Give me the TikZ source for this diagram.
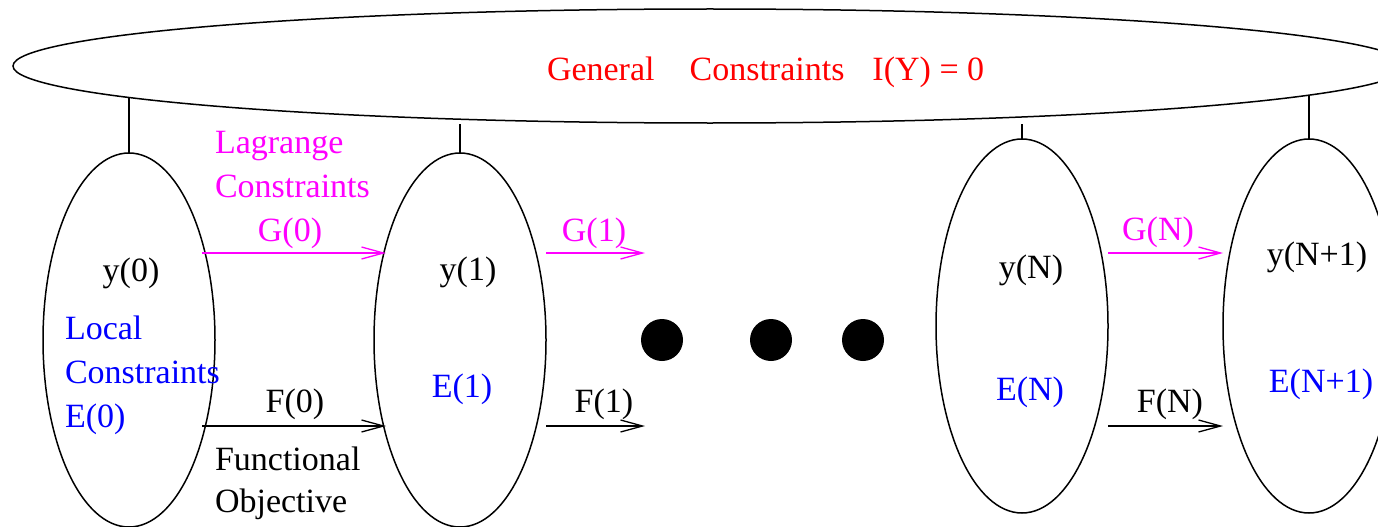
\documentclass[tikz,border=0pt]{standalone}
\usepackage{fontspec}
\setmainfont{Liberation Serif}
\usetikzlibrary{shapes.geometric,arrows.meta}
\definecolor{cred}{RGB}{255,0,0}
\definecolor{cmag}{RGB}{255,0,255}
\definecolor{cblue}{RGB}{0,0,255}
\begin{document}
\begin{tikzpicture}[x=1pt,y=-1pt,
  every node/.style={inner sep=0pt,outer sep=0pt},
  txt/.style={font=\fontsize{34}{40}\selectfont},
  oval/.style={draw,ellipse,line width=1.5pt,minimum width=172pt,minimum height=374pt},
  bigoval/.style={draw,ellipse,line width=1.5pt,minimum width=1394pt,minimum height=114pt},
  link/.style={line width=1.5pt},
  arr/.style={line width=1.3pt,-{Straight Barb[length=22pt,width=12pt,line width=1.3pt]}},
  dot/.style={circle,fill=black,minimum size=42pt}]
\useasboundingbox (0,0) rectangle (1378,527);
% ellipses
\node[bigoval] (ec) at (710,66) {};
\node[oval] (e0) at (129,340) {};
\node[oval] (e1) at (460,340) {};
\node[oval] (eN) at (1022,326) {};
\node[oval] (eN1) at (1309,326) {};
% links to general constraints
\draw[link] (e0.north) -- ++(0,-56);
\draw[link] (e1.north) -- ++(0,-29);
\draw[link] (eN.north) -- ++(0,-15);
\draw[link] (eN1.north) -- ++(0,-44);
% dots
\node[dot] (d1) at (662,340) {};
\node[dot] (d2) at (771,340) {};
\node[dot] (d3) at (863,340) {};
% free arrow ends
\coordinate (g1end) at (645,253);
\coordinate (f1end) at (645,426);
% arrows
\draw[arr,cmag] ([xshift=-13pt,yshift=87pt]e0.east) -- ([xshift=12pt,yshift=87pt]e1.west);
\draw[arr] ([xshift=-13pt,yshift=-86pt]e0.east) -- ([xshift=12pt,yshift=-86pt]e1.west);
\draw[arr,cmag] ([yshift=87pt]e1.east) -- (g1end);
\draw[arr] ([yshift=-86pt]e1.east) -- (f1end);
\draw[arr,cmag] ([yshift=73pt]eN.east) -- ([yshift=73pt]eN1.west);
\draw[arr] ([yshift=-100pt]eN.east) -- ([yshift=-100pt]eN1.west);
% texts
\node[txt,cred,anchor=base west] (gen) at (547,81) {General\hspace{35pt}Constraints\hspace{28pt}I(Y) = 0};
\node[txt,cmag,anchor=base west] (lag1) at (215,153) {Lagrange};
\node[txt,cmag,anchor=base west] (lag2) at (215,197) {Constraints};
\node[txt,cmag,anchor=base] (g0) at (290,241) {G(0)};
\node[txt,anchor=base] (y0) at (131,281) {y(0)};
\node[txt,cblue,anchor=base west] (loc1) at (65,339) {Local};
\node[txt,cblue,anchor=base west] (loc2) at (65,383) {Constraints};
\node[txt,cblue,anchor=base west] (loc3) at (65,427) {E(0)};
\node[txt,anchor=base] (f0) at (295,412) {F(0)};
\node[txt,anchor=base west] (fun1) at (215,470) {Functional};
\node[txt,anchor=base west] (fun2) at (215,512) {Objective};
\node[txt,anchor=base] (y1) at (468,280) {y(1)};
\node[txt,cblue,anchor=base] (E1) at (462,397) {E(1)};
\node[txt,cmag,anchor=base] (g1) at (594,241) {G(1)};
\node[txt,anchor=base] (f1) at (604,412) {F(1)};
\node[txt,anchor=base] (yN) at (1031,278) {y(N)};
\node[txt,cblue,anchor=base] (EN) at (1030,400) {E(N)};
\node[txt,cmag,anchor=base] (gN) at (1158,240) {G(N)};
\node[txt,anchor=base] (fN) at (1170,412) {F(N)};
\node[txt,anchor=base] (yN1) at (1317,265) {y(N+1)};
\node[txt,cblue,anchor=base] (EN1) at (1321,392) {E(N+1)};
\end{tikzpicture}
\end{document}
